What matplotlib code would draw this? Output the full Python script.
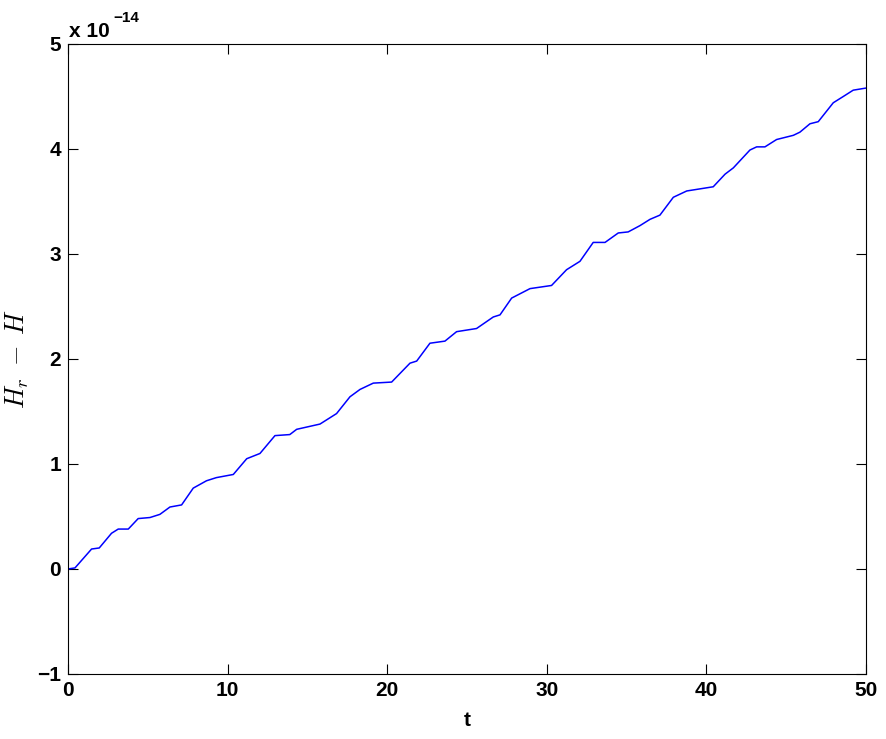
import matplotlib
matplotlib.use('Agg')
import matplotlib.pyplot as plt
import numpy as np

# values, y in units of 1e-14
t = [0, 0.44, 1.48, 1.96, 2.73, 3.15, 3.78, 4.4, 5.14, 5.76, 6.39, 7.12,
     7.85, 8.68, 9.3, 10.36, 11.2, 12.03, 12.97, 13.9, 14.33, 15.79, 16.83,
     17.67, 18.3, 19.13, 20.28, 21.43, 21.85, 22.68, 23.62, 24.35, 25.6,
     26.65, 27.07, 27.8, 28.95, 30.3, 31.24, 32.08, 32.91, 33.65, 34.48,
     35.1, 35.84, 36.47, 37.09, 37.93, 38.77, 39.6, 40.43, 41.17, 41.69,
     42.73, 43.15, 43.67, 44.4, 45.45, 45.86, 46.49, 47.01, 47.95, 48.58,
     49.2, 50]
dH = [0, 0.01, 0.19, 0.20, 0.34, 0.38, 0.38, 0.48, 0.49, 0.52, 0.59, 0.61,
      0.77, 0.84, 0.87, 0.90, 1.05, 1.10, 1.27, 1.28, 1.33, 1.38, 1.48,
      1.64, 1.71, 1.77, 1.78, 1.96, 1.98, 2.15, 2.17, 2.26, 2.29,
      2.40, 2.42, 2.58, 2.67, 2.70, 2.85, 2.93, 3.11, 3.11, 3.20,
      3.21, 3.27, 3.33, 3.37, 3.54, 3.60, 3.62, 3.64, 3.76, 3.82,
      3.99, 4.02, 4.02, 4.09, 4.13, 4.16, 4.24, 4.26, 4.44, 4.50,
      4.56, 4.58]

xticks = [0, 10, 20, 30, 40, 50]
yticks = [-1, 0, 1, 2, 3, 4, 5]

plt.rcParams['font.family'] = ['Liberation Sans', 'DejaVu Sans']
plt.rcParams['mathtext.fontset'] = 'cm'

fig = plt.figure(figsize=(8.86, 7.39), dpi=100)
ax = fig.add_axes([0.0767, 0.088, 0.9007, 0.8525])

ax.plot(t, dH, color='blue', linewidth=1.1)

ax.set_xlim(0, 50)
ax.set_ylim(-1, 5)
ax.set_xticks(xticks)
ax.set_yticks(yticks)
ax.set_xticklabels([str(v) for v in xticks], fontsize=15, fontweight='bold')
ax.set_yticklabels(['\u22121' if v < 0 else str(v) for v in yticks],
                   fontsize=15, fontweight='bold')
ax.tick_params(direction='in', length=7, width=0.8, top=True, right=True,
               pad=5)
for s in ax.spines.values():
    s.set_linewidth(0.8)

ax.set_xlabel('t', fontsize=15, fontweight='bold', labelpad=8)
ax.set_ylabel('$H_r \\;-\\; H$', fontsize=19, labelpad=4)

# exponent label, matlab style
fig.text(69 / 886, 1 - 37 / 739, 'x 10', fontsize=15, fontweight='bold',
         ha='left', va='baseline')
fig.text(113 / 886, 1 - 22 / 739, '\u221214', fontsize=11,
         fontweight='bold', ha='left', va='baseline')

fig.savefig('out.png', dpi=100)
